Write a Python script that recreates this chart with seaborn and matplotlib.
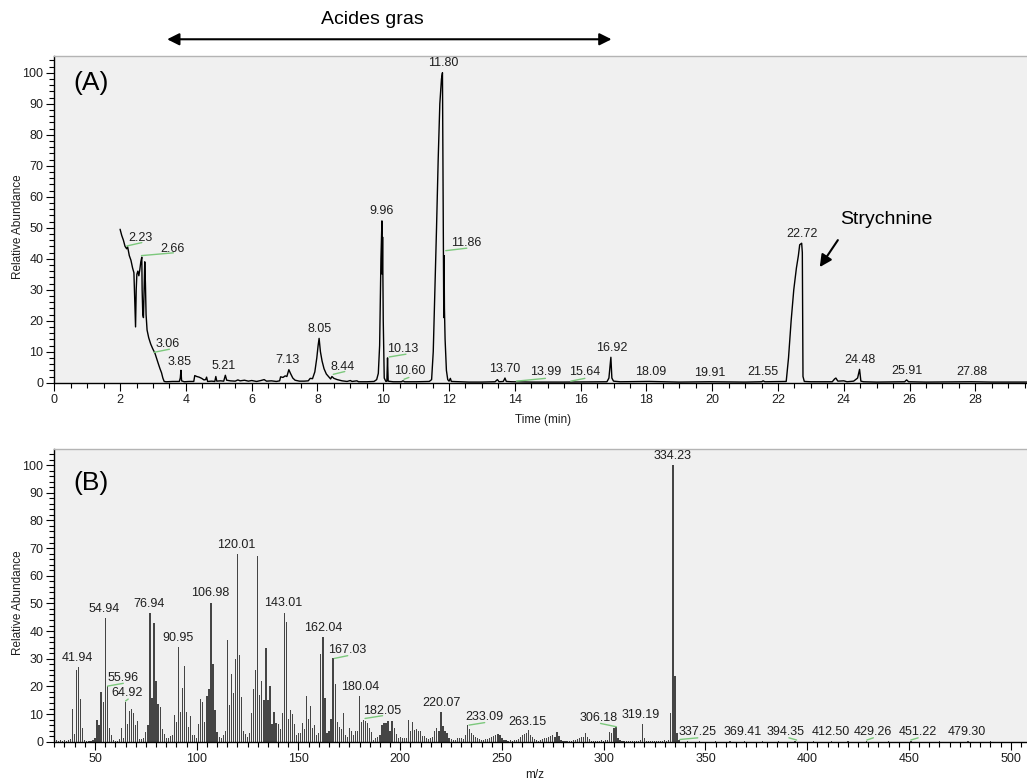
import numpy as np
import pandas as pd
import matplotlib
matplotlib.use("Agg")
import matplotlib.pyplot as plt
import seaborn as sns
from matplotlib.ticker import MultipleLocator

sns.set_theme(style="white")
plt.rcParams['font.family'] = ['Liberation Sans', 'DejaVu Sans']

# ---------------- (A) chromatogram: retention time (min) vs relative abundance
rt = [2.00, 2.05, 2.10, 2.15, 2.20, 2.23, 2.28, 2.33, 2.38, 2.42, 2.45, 2.47, 2.49, 2.51,
      2.54, 2.57, 2.60, 2.63, 2.66, 2.67, 2.69, 2.71, 2.73, 2.75, 2.77, 2.79, 2.82, 2.87,
      2.93, 2.99, 3.06, 3.11, 3.16, 3.21, 3.26, 3.30, 3.34, 3.40, 3.60, 3.80, 3.83, 3.85,
      3.87, 3.95, 4.10, 4.24, 4.27, 4.33, 4.40, 4.48, 4.55, 4.60, 4.63, 4.66, 4.78, 4.88,
      4.91, 4.94, 5.05, 5.15, 5.20, 5.24, 5.35, 5.50, 5.58, 5.65, 5.78, 5.90, 6.00, 6.15,
      6.28, 6.38, 6.45, 6.60, 6.75, 6.85, 6.88, 6.95, 7.02, 7.07, 7.13, 7.18, 7.25, 7.32,
      7.45, 7.60, 7.72, 7.78, 7.85, 7.92, 7.98, 8.02, 8.05, 8.09, 8.14, 8.20, 8.27, 8.35,
      8.40, 8.44, 8.50, 8.60, 8.75, 8.90, 9.00, 9.05, 9.20, 9.25, 9.50, 9.72, 9.80, 9.85,
      9.89, 9.93, 9.96, 9.97, 9.98, 10.00, 10.03, 10.08, 10.11, 10.13, 10.15, 10.30, 10.55,
      10.60, 10.65, 11.00, 11.40, 11.47, 11.52, 11.57, 11.62, 11.67, 11.72, 11.77, 11.80,
      11.82, 11.83, 11.84, 11.85, 11.86, 11.88, 11.92, 11.96, 12.00, 12.04, 12.07, 12.30,
      12.60, 13.00, 13.40, 13.47, 13.52, 13.65, 13.70, 13.74, 13.90, 14.50, 15.50, 16.80,
      16.86, 16.90, 16.92, 16.95, 17.00, 17.20, 18.09, 19.00, 19.91, 21.00, 21.50, 21.55,
      21.60, 22.25, 22.32, 22.40, 22.48, 22.56, 22.62, 22.66, 22.72, 22.74, 22.76, 22.80,
      23.00, 23.65, 23.72, 23.76, 23.82, 24.00, 24.10, 24.30, 24.42, 24.48, 24.52, 24.60,
      25.00, 25.85, 25.91, 25.97, 26.50, 27.88, 28.50, 29.60]
abund = [49.5, 47.5, 46.0, 44.0, 43.2, 43.8, 41.0, 39.5, 37.0, 35.5, 25.0, 18.0, 30.0, 35.0,
         36.0, 34.5, 36.5, 39.0, 40.5, 30.0, 22.0, 21.0, 30.0, 39.0, 32.0, 22.0, 17.0, 14.5,
         12.5, 11.0, 9.5, 7.8, 6.2, 4.6, 3.2, 1.5, 0.4, 0.3, 0.4, 0.4, 1.5, 4.0,
         0.6, 0.3, 0.4, 0.4, 2.3, 2.0, 1.8, 1.4, 0.9, 1.0, 1.8, 0.4, 0.5, 0.4,
         2.0, 0.5, 0.6, 0.5, 2.4, 0.8, 0.6, 0.5, 0.9, 0.6, 0.8, 0.5, 0.7, 0.4,
         0.7, 1.0, 0.5, 0.6, 0.4, 0.6, 1.9, 1.7, 2.2, 2.0, 4.2, 3.0, 1.5, 0.8,
         0.5, 0.5, 0.6, 1.4, 1.3, 3.5, 8.0, 12.0, 14.3, 10.0, 7.0, 4.5, 2.8, 1.8,
         1.2, 2.0, 1.4, 1.0, 0.6, 0.4, 0.7, 0.4, 0.6, 0.3, 0.3, 0.4, 1.0, 3.0,
         12.0, 40.0, 52.2, 35.0, 47.0, 20.0, 1.5, 0.4, 0.5, 8.0, 0.5, 0.3, 0.3,
         0.6, 0.3, 0.3, 0.4, 1.0, 10.0, 30.0, 50.0, 72.0, 90.0, 98.0, 100.0,
         60.0, 42.0, 21.0, 41.0, 24.0, 14.0, 4.0, 1.0, 0.5, 1.4, 0.4, 0.3,
         0.2, 0.2, 0.3, 1.0, 0.3, 0.4, 1.5, 0.4, 0.3, 0.2, 0.2, 0.3,
         1.5, 6.0, 8.2, 1.5, 0.5, 0.3, 0.4, 0.2, 0.3, 0.2, 0.3, 0.6,
         0.3, 0.4, 8.0, 20.0, 30.0, 37.0, 41.0, 44.5, 45.0, 42.0, 2.0, 0.4,
         0.3, 0.3, 1.2, 1.5, 0.5, 0.6, 0.3, 0.5, 1.5, 4.3, 0.5, 0.3,
         0.2, 0.3, 0.9, 0.3, 0.2, 0.3, 0.2, 0.2]

rt_labels = ["2.23", "2.66", "3.06", "3.85", "5.21", "7.13", "8.05", "8.44", "9.96",
             "10.13", "10.60", "11.80", "11.86", "13.70", "13.99", "15.64", "16.92",
             "18.09", "19.91", "21.55", "22.72", "24.48", "25.91", "27.88"]

# ---------------- (B) mass spectrum: m/z vs relative abundance
spec_mz = list(range(31, 338)) + [341, 347, 355, 362, 369, 378, 386, 394, 403, 412,
                                  420, 429, 440, 451, 465, 479, 490]
spec_int = [
    0.6, 0.4, 0.5, 0.4, 0.5, 0.4, 0.6, 1.0, 12.0, 2.8,        # 31-40
    26.0, 27.0, 15.5, 4.8, 0.6, 0.4, 0.3, 0.4, 0.5, 1.5,      # 41-50
    8.0, 6.0, 17.8, 14.5, 44.8, 20.0, 4.8, 2.5, 0.6, 0.4,     # 51-60
    0.4, 1.0, 4.8, 1.5, 14.2, 6.5, 11.0, 12.0, 10.5, 6.0,     # 61-70
    7.5, 1.0, 0.8, 1.2, 3.6, 6.0, 46.4, 15.7, 42.8, 22.0,     # 71-80
    13.8, 12.6, 4.6, 2.8, 1.2, 1.4, 2.0, 2.4, 9.6, 7.2,       # 81-90
    34.3, 10.8, 19.5, 27.5, 10.6, 5.4, 9.3, 2.4, 2.4, 1.2,    # 91-100
    6.3, 15.3, 14.5, 7.0, 16.6, 19.0, 50.2, 28.0, 11.4, 3.6,  # 101-110
    1.8, 1.4, 2.4, 4.0, 36.7, 13.3, 24.3, 17.5, 30.0, 67.8,   # 111-120
    31.3, 16.3, 3.8, 2.8, 1.8, 3.2, 10.2, 18.9, 25.9, 67.1,   # 121-130
    16.9, 21.9, 15.0, 33.7, 15.0, 20.1, 6.3, 10.6, 6.6, 6.3,  # 131-140
    4.6, 10.2, 46.7, 43.4, 8.2, 11.4, 9.9, 6.3, 2.4, 3.0,     # 141-150
    3.2, 6.6, 4.5, 16.6, 8.2, 12.9, 5.0, 6.0, 2.4, 3.0,       # 151-160
    31.6, 38.0, 15.7, 3.2, 4.0, 8.2, 30.1, 20.7, 7.2, 5.4,    # 161-170
    4.5, 10.2, 2.4, 1.8, 5.0, 3.8, 2.4, 4.0, 3.8, 16.6,       # 171-180
    7.2, 7.8, 7.6, 6.9, 4.8, 3.6, 0.6, 1.2, 1.8, 2.4,         # 181-190
    6.0, 6.6, 6.6, 7.5, 4.0, 7.5, 4.8, 2.8, 1.4, 1.8,         # 191-200
    1.2, 1.4, 1.2, 7.8, 4.0, 7.2, 4.2, 4.6, 4.0, 3.8,         # 201-210
    2.0, 2.0, 1.2, 0.8, 1.2, 1.8, 3.8, 4.8, 4.0, 10.6,        # 211-220
    5.7, 4.0, 3.2, 1.2, 0.8, 0.6, 0.6, 1.2, 1.4, 1.2,         # 221-230
    0.8, 2.6, 6.0, 4.5, 3.2, 2.4, 1.8, 1.2, 0.8, 0.6,         # 231-240
    0.6, 0.8, 1.0, 1.2, 1.6, 2.0, 2.4, 2.8, 2.4, 1.2,         # 241-250
    0.6, 0.5, 0.4, 0.5, 0.4, 0.5, 0.6, 0.8, 1.8, 2.6,         # 251-260
    2.8, 3.2, 4.2, 2.4, 1.8, 0.8, 0.5, 0.4, 0.5, 0.8,         # 261-270
    1.2, 1.4, 1.8, 2.2, 2.6, 1.8, 3.6, 2.0, 0.6, 0.4,         # 271-280
    0.3, 0.4, 0.3, 0.4, 0.6, 0.6, 1.0, 1.4, 1.8, 1.8,         # 281-290
    3.2, 1.8, 0.8, 0.4, 0.3, 0.4, 0.3, 0.4, 0.5, 0.4,         # 291-300
    0.5, 0.6, 3.6, 3.0, 4.8, 5.4, 1.2, 0.5, 0.4, 0.3,         # 301-310
    0.4, 0.3, 0.4, 0.3, 0.4, 0.3, 0.4, 0.6, 6.3, 1.4,         # 311-320
    0.4, 0.3, 0.3, 0.4, 0.3, 0.3, 0.4, 0.3, 0.4, 0.5,         # 321-330
    0.4, 0.6, 10.5, 100.0, 23.7, 3.0, 0.6,                    # 331-337
    0.2, 0.2, 0.2, 0.2, 0.3, 0.2, 0.2, 0.3, 0.2, 0.3,
    0.2, 0.3, 0.2, 0.3, 0.2, 0.3, 0.2]

mz_labels = ["41.94", "54.94", "55.96", "64.92", "76.94", "90.95", "106.98", "120.01",
             "143.01", "162.04", "167.03", "180.04", "182.05", "220.07", "233.09",
             "263.15", "306.18", "319.19", "334.23", "337.25", "369.41", "394.35",
             "412.50", "429.26", "451.22", "479.30"]

# ---------------- layout / style (positions of annotations)
rt_label_pos = [(2.61, 46.6), (3.60, 43.0), (3.45, 12.5), (3.82, 6.6), (5.16, 5.5),
                (7.08, 7.3), (8.05, 17.2), (8.78, 5.0), (9.95, 55.4), (10.59, 10.8),
                (10.81, 3.8), (11.82, 103.2), (12.53, 45.0), (13.70, 4.4), (14.94, 3.3),
                (16.13, 3.3), (16.96, 11.3), (18.13, 3.3), (19.93, 3.0), (21.55, 3.3),
                (22.74, 48.0), (24.49, 7.3), (25.91, 3.9), (27.88, 3.3)]
rt_leaders = [((2.20, 2.66), (44.1, 45.2)), ((2.65, 3.62), (41.0, 41.9)),
              ((3.03, 3.50), (9.8, 10.8)), ((8.48, 8.83), (2.7, 3.6)),
              ((10.18, 10.69), (8.3, 9.2)), ((10.63, 10.78), (1.1, 1.7)),
              ((11.90, 12.54), (42.6, 43.4)), ((14.05, 14.93), (0.5, 1.4)),
              ((15.70, 16.13), (0.5, 1.4))]
mz_label_pos = [(41.5, 30.4), (54.4, 47.8), (63.9, 23.1), (66.0, 17.5), (76.6, 49.6),
                (90.8, 37.6), (106.7, 53.9), (119.4, 71.1), (142.6, 50.0), (162.3, 41.0),
                (173.9, 33.1), (180.2, 19.6), (191.3, 11.1), (220.3, 13.9), (241.5, 8.8),
                (262.3, 7.2), (297.5, 8.4), (318.4, 9.6), (333.6, 103.4), (345.9, 3.4),
                (368.4, 3.4), (389.3, 3.4), (411.5, 3.4), (432.5, 3.4), (454.1, 3.4),
                (478.4, 3.4)]
mz_leaders = [((56.2, 63.9), (20.1, 21.1)), ((65.0, 66.3), (14.7, 15.4)),
              ((167.6, 174.2), (30.1, 31.1)), ((182.7, 191.3), (8.4, 9.4)),
              ((233.8, 241.5), (6.0, 6.9)), ((298.4, 306.2), (6.6, 5.4)),
              ((337.4, 346.2), (0.8, 1.4)), ((391.0, 394.8), (1.4, 0.6)),
              ((429.3, 432.5), (0.6, 1.4)), ((450.9, 454.5), (0.6, 1.4))]

GREEN = '#7cc87c'
TXT = '#1e1e1e'

W, H = 1027, 780
fig = plt.figure(figsize=(W / 100, H / 100), dpi=100)
fig.patch.set_facecolor('white')
ax1 = fig.add_axes([54.3 / W, (H - 382.7) / H, (W - 54.3) / W, (382.7 - 55.7) / H])
ax2 = fig.add_axes([54.3 / W, (H - 741.7) / H, (W - 54.3) / W, (741.7 - 449.3) / H])

df_chrom = pd.DataFrame({'rt': rt, 'abund': abund})
sns.lineplot(data=df_chrom, x='rt', y='abund', estimator=None, sort=False,
             color='black', lw=1.0, ax=ax1)

df_spec = pd.DataFrame({'mz': spec_mz, 'intensity': spec_int})
sns.barplot(data=df_spec, x='mz', y='intensity', native_scale=True, width=0.6,
            color='#454545', saturation=1, linewidth=0, errorbar=None, ax=ax2)

for ax in (ax1, ax2):
    ax.set_facecolor('#f0f0f0')
    for side in ('left', 'bottom'):
        ax.spines[side].set_color('black')
        ax.spines[side].set_linewidth(1.0)
    ax.spines['top'].set_color('#b4b4b4')
    ax.spines['top'].set_linewidth(1.0)
    ax.spines['right'].set_visible(False)
    ax.tick_params(which='both', bottom=True, left=True, direction='out',
                   color='black', width=0.8)
    ax.tick_params(which='major', length=6, labelsize=9, pad=2, labelcolor=TXT)
    ax.tick_params(which='minor', length=3.5)
    ax.yaxis.set_major_locator(MultipleLocator(10))
    ax.yaxis.set_minor_locator(MultipleLocator(2))
    ax.set_ylabel('Relative Abundance', fontsize=8.5, color=TXT)
    ax.yaxis.set_label_coords(-0.0373, 0.477)
    ax.yaxis.label.set_va('center')
    ax.grid(False)

ax1.set_xlim(0, 29.57)
ax1.set_ylim(0, 105.5)
ax1.xaxis.set_major_locator(MultipleLocator(2))
ax1.xaxis.set_minor_locator(MultipleLocator(0.5))
ax1.set_xlabel('Time (min)', fontsize=8.5, color=TXT)
ax1.xaxis.set_label_coords(0.502, -0.114)
ax1.xaxis.label.set_va('center')

ax2.set_xlim(30, 508)
ax2.set_ylim(0, 105.7)
ax2.xaxis.set_major_locator(MultipleLocator(50))
ax2.xaxis.set_minor_locator(MultipleLocator(5))
ax2.set_xlabel('m/z', fontsize=8.5, color=TXT)
ax2.xaxis.set_label_coords(0.494, -0.114)
ax2.xaxis.label.set_va('center')

# peak labels
for s, (x, y) in zip(rt_labels, rt_label_pos):
    ax1.text(x, y, s, ha='center', va='center', fontsize=9, color=TXT)
for xs, ys in rt_leaders:
    ax1.plot(xs, ys, color=GREEN, lw=1.0)
for s, (x, y) in zip(mz_labels, mz_label_pos):
    ax2.text(x, y, s, ha='center', va='center', fontsize=9, color=TXT)
for xs, ys in mz_leaders:
    ax2.plot(xs, ys, color=GREEN, lw=1.0)

ax1.text(1.11, 96.6, '(A)', fontsize=19, ha='center', va='center', color='black')
ax2.text(47.9, 93.4, '(B)', fontsize=19, ha='center', va='center', color='black')

# Acides gras arrow
ax1.annotate('', xy=(16.94, 110.8), xytext=(3.43, 110.8), xycoords='data',
             arrowprops=dict(arrowstyle='<|-|>', color='black', lw=1.5,
                             mutation_scale=18, shrinkA=0, shrinkB=0),
             annotation_clip=False)
fig.text(372.5 / W, 1 - 19 / H, 'Acides gras', fontsize=14, ha='center', va='center',
         color='black')

# Strychnine arrow
ax1.text(25.3, 52.8, 'Strychnine', fontsize=14, ha='center', va='center', color='black')
ax1.annotate('', xy=(23.27, 37.3), xytext=(23.82, 46.0),
             arrowprops=dict(arrowstyle='-|>', color='black', lw=1.5,
                             mutation_scale=18, shrinkA=0, shrinkB=0))

fig.savefig('out.png', dpi=100)
